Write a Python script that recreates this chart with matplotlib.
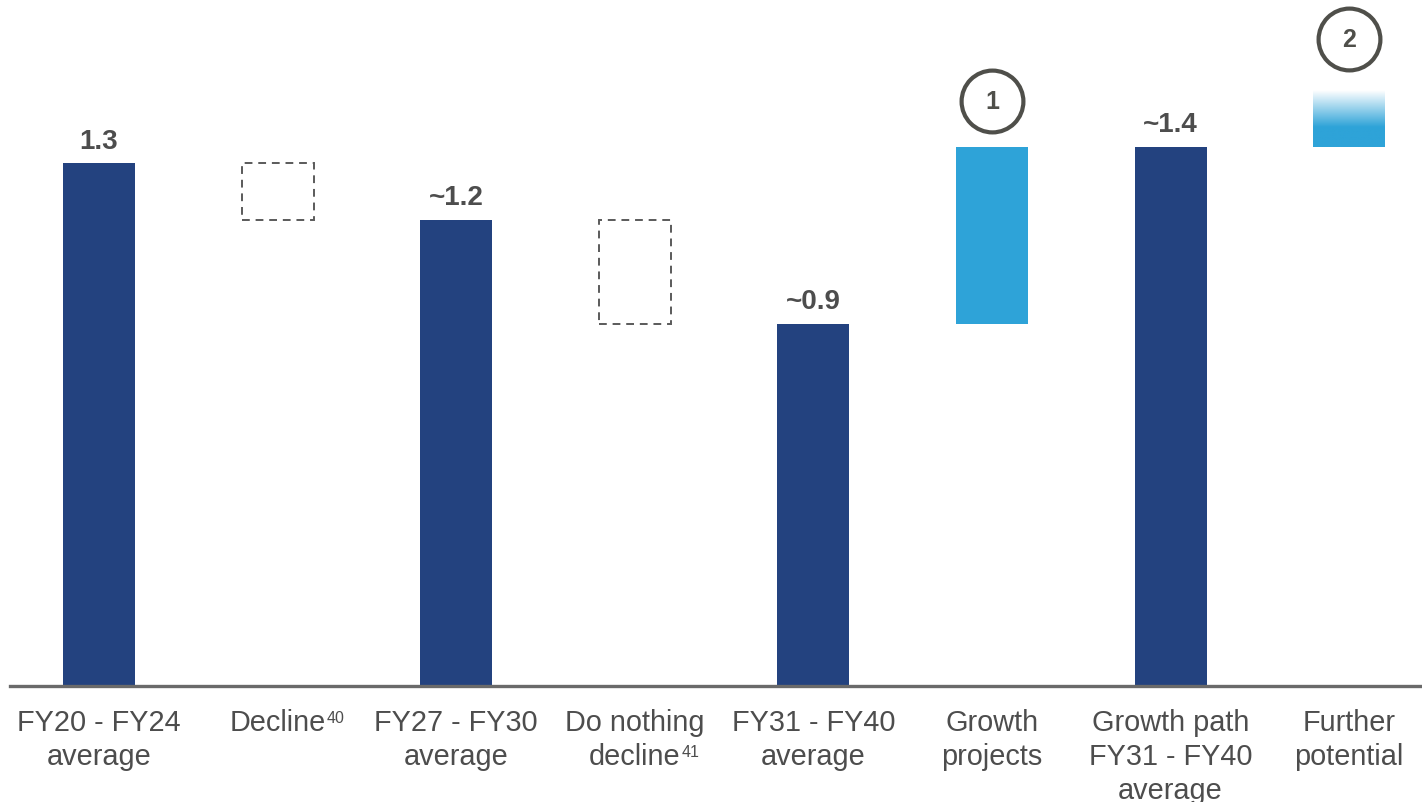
import numpy as np
import matplotlib.pyplot as plt
from matplotlib.patches import Rectangle

plt.rcParams['font.family'] = ['Liberation Sans', 'DejaVu Sans']

# categories and values
categories = [["FY20 - FY24", "average"], ["Decline"], ["FY27 - FY30", "average"],
              ["Do nothing", "decline"], ["FY31 - FY40", "average"],
              ["Growth", "projects"], ["Growth path", "FY31 - FY40", "average"],
              ["Further", "potential"]]
footnotes = [None, "40", None, "41", None, None, None, None]
# bar bottoms and tops
bottoms = [0, 1.16, 0, 0.90, 0, 0.90, 0, 1.34]
tops = [1.30, 1.30, 1.16, 1.16, 0.90, 1.34, 1.34, 1.48]
kinds = ["total", "decline", "total", "decline", "total", "growth", "total", "potential"]
value_labels = ["1.3", None, "~1.2", None, "~0.9", None, "~1.4", None]
markers = {5: "1", 7: "2"}
marker_y = {5: 1.455, 7: 1.609}

navy = "#23427F"
light = "#2EA3D8"
text_col = "#4D4D4D"
circle_col = "#4F4F4A"

fig = plt.figure(figsize=(14.22, 8.03), dpi=100)
ax = fig.add_axes([0, 0, 1, 1])
ax.set_xlim(-0.554, 7.408)
ax.set_ylim(-0.288, 1.709)
ax.axis('off')

w = 0.403
for i, k in enumerate(kinds):
    b, t = bottoms[i], tops[i]
    if k == "total":
        ax.bar(i, t - b, bottom=b, width=w, color=navy)
    elif k == "growth":
        ax.bar(i, t - b, bottom=b, width=w, color=light)
    elif k == "decline":
        ax.add_patch(Rectangle((i - w / 2, b), w, t - b, fill=False,
                               edgecolor="#5a5a5a", lw=1.4, ls=(0, (4, 3))))
    else:
        # gradient from white (top) to light blue
        n = 100
        frac = np.linspace(0, 1, n)
        a = np.clip(frac / 0.65, 0, 1)[:, None]
        base = np.array([46, 163, 216]) / 255.0
        img = (1 - a[..., None]) * 1.0 + a[..., None] * base
        img = np.repeat(img, 2, axis=1)
        ax.imshow(img, extent=(i - w / 2, i + w / 2, b, t), origin='upper',
                  aspect='auto', zorder=2)

for i, lab in enumerate(value_labels):
    if lab:
        ax.text(i, tops[i] + 0.057, lab, ha='center', va='center',
                fontsize=20, fontweight='bold', color=text_col)

for i, num in markers.items():
    ax.plot(i, marker_y[i], 'o', ms=44.5, mfc='white', mec=circle_col, mew=3.0)
    ax.text(i, marker_y[i], num, ha='center', va='center', fontsize=18,
            fontweight='bold', color=circle_col)

# baseline
ax.axhline(0, xmin=0.007, xmax=1, color="#6a6a6a", lw=2.4, zorder=3)

# category labels
px = 1 / 402
for i, lines in enumerate(categories):
    for j, line in enumerate(lines):
        t = ax.text(i, -(36 + 34 * j) * px, line, ha='center', va='center',
                    fontsize=20.8, color=text_col)
        if footnotes[i] and j == len(lines) - 1:
            ax.annotate(footnotes[i], xy=(1, 1), xycoords=t, xytext=(0.5, -1),
                        textcoords='offset points', ha='left', va='top',
                        fontsize=11.5, color=text_col)

fig.savefig("out.png", dpi=100)
